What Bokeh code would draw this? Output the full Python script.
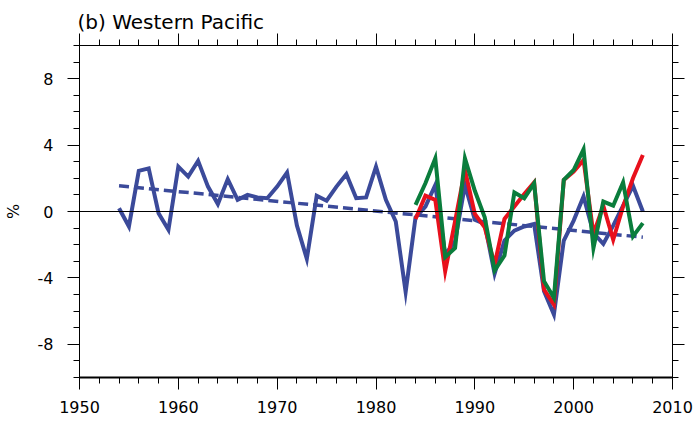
from bokeh.plotting import figure
from bokeh.models import Range1d, LinearAxis, SingleIntervalTicker, Span
from bokeh.embed import file_html
from bokeh.resources import INLINE

# ---- data ----
years_blue = list(range(1954, 2008))
blue_vals = [0.2, -0.9, 2.45, 2.6, -0.1, -1.1, 2.7, 2.1, 3.05, 1.5,
             0.45, 1.95, 0.7, 1.0, 0.85, 0.8, 1.5, 2.35, -0.85, -2.85,
             0.95, 0.65, 1.5, 2.25, 0.8, 0.85, 2.7, 0.7, -0.6, -4.85,
             -0.35, 0.3, 1.6, -2.6, -1.8, 1.6, -0.5, -0.75, -3.75, -1.75,
             -1.15, -0.9, -0.75, -4.8, -6.2, -1.75, -0.55, 0.9, -1.3, -1.95,
             -0.85, 0.35, 1.55, 0.0]
years_short = list(range(1984, 2008))
red_vals = [-0.45, 0.95, 0.7, -3.6, -0.6, 2.5, -0.15, -0.95, -3.2, -0.45,
            0.3, 1.05, 1.75, -4.7, -5.6, 1.9, 2.4, 3.1, -1.35, 0.35,
            -1.7, 0.3, 2.0, 3.4]
green_vals = [0.4, 1.7, 3.2, -2.75, -2.2, 3.2, 1.25, -0.35, -3.55, -2.65,
              1.15, 0.8, 1.7, -4.2, -5.2, 1.9, 2.5, 3.75, -2.2, 0.6,
              0.35, 1.75, -1.5, -0.7]
trend_years = [1954, 2007]
trend_vals = [1.55, -1.55]
x_ticks_interval = 10
y_ticks_interval = 4
y_tick_labels = {-8: "-8", -4: "-4", 0: "0", 4: "4", 8: "8"}
title_text = "(b) Western Pacific"
y_label = "%"

BLUE = "#3b4a9a"
RED = "#e8101c"
GREEN = "#0a7d3c"
FONT = "DejaVu Sans"

p = figure(width=695, height=423, output_backend="svg", toolbar_location=None,
           x_range=Range1d(1950, 2010), y_range=Range1d(-10, 10),
           min_border_left=79, min_border_right=23, min_border_top=45,
           min_border_bottom=46, title=title_text)
p.grid.visible = False
p.outline_line_color = "black"
p.outline_line_width = 1
p.background_fill_color = "white"
p.border_fill_color = "white"

p.title.text_font = FONT
p.title.text_font_size = "20px"
p.title.text_font_style = "normal"
p.title.text_color = "black"
p.title.align = "left"
p.title.offset = -2
p.title.standoff = 0

def style(ax, labels=True):
    ax.major_tick_out = 12
    ax.major_tick_in = 0
    ax.minor_tick_out = 6
    ax.minor_tick_in = 0
    ax.axis_line_color = "black"
    ax.major_tick_line_color = "black"
    ax.minor_tick_line_color = "black"
    ax.major_label_text_font = FONT
    if labels:
        ax.major_label_text_font_size = "16px"
        ax.major_label_text_color = "black"
    else:
        ax.major_label_text_font_size = "1px"
        ax.major_label_text_color = None
        ax.major_label_standoff = 0

p.xaxis.ticker = SingleIntervalTicker(interval=x_ticks_interval, num_minor_ticks=5)
p.yaxis.ticker = SingleIntervalTicker(interval=y_ticks_interval, num_minor_ticks=4)
style(p.xaxis[0])
style(p.yaxis[0])
p.xaxis.major_label_standoff = 11
p.xaxis.axis_line_width = 2
p.yaxis.major_label_standoff = 14
p.yaxis.major_label_overrides = {float(k): v for k, v in y_tick_labels.items()}
p.yaxis.axis_label = y_label
p.yaxis.axis_label_text_font = FONT
p.yaxis.axis_label_text_font_style = "normal"
p.yaxis.axis_label_text_font_size = "16px"
p.yaxis.axis_label_text_color = "black"
p.yaxis.axis_label_standoff = 12

top = LinearAxis(ticker=SingleIntervalTicker(interval=x_ticks_interval, num_minor_ticks=5))
style(top, labels=False)
p.add_layout(top, "above")
right = LinearAxis(ticker=SingleIntervalTicker(interval=y_ticks_interval, num_minor_ticks=4))
style(right, labels=False)
p.add_layout(right, "right")

p.add_layout(Span(location=0, dimension="width", line_color="black", line_width=1))

p.line(trend_years, trend_vals, line_color=BLUE, line_width=3.5, line_dash="10 5")
p.line(years_blue, blue_vals, line_color=BLUE, line_width=4, line_join="miter")
p.line(years_short, red_vals, line_color=RED, line_width=4, line_join="miter")
p.line(years_short, green_vals, line_color=GREEN, line_width=4, line_join="miter")

open("out.html", "w").write(file_html(p, INLINE))
